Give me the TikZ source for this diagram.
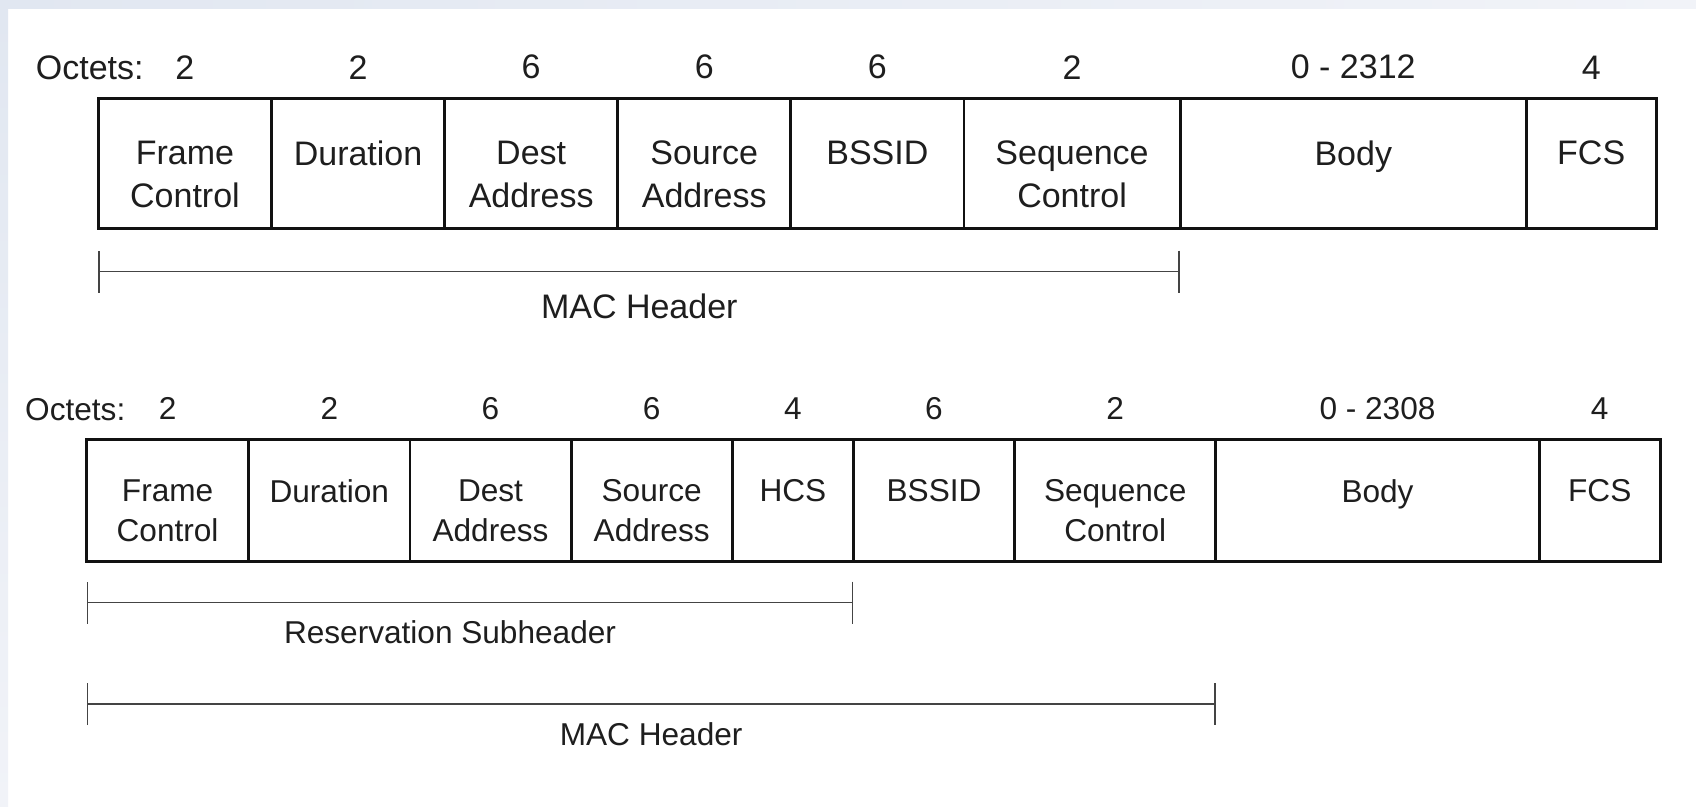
\documentclass[tikz,border=0pt]{standalone}
\usepackage{fontspec}
\setmainfont{Liberation Sans}
\usepackage{xcolor}
\usepackage{tikz}
\usetikzlibrary{arrows.meta,positioning}
\definecolor{frameink}{HTML}{111111}
\definecolor{frametext}{HTML}{1E1E1E}
\definecolor{spanink}{HTML}{444444}
\definecolor{edgeblue}{HTML}{E1E7F1}
\definecolor{edgepale}{HTML}{F1F3F8}
\tikzstyle{field} = [rectangle, draw=frameink, line width=2.8pt, inner sep=0pt, outer sep=0pt]
\tikzstyle{fieldA} = [field, minimum height=129.8pt]
\tikzstyle{fieldB} = [field, minimum height=122.2pt]
\tikzstyle{textA} = [inner sep=0pt, align=center, text=frametext, font=\fontsize{34}{43}\selectfont]
\tikzstyle{textB} = [inner sep=0pt, align=center, text=frametext, font=\fontsize{31.6}{40.5}\selectfont]
\tikzstyle{span} = [{Bar[width=42pt]}-{Bar[width=42pt]}, line width=1.9pt, spanink]

\begin{document}
\begin{tikzpicture}[x=1pt, y=-1pt]
\useasboundingbox (0,0) rectangle (1696,806);
\fill[white] (0,0) rectangle (1696,806);
\shade[left color=edgeblue, right color=edgepale] (0,0) rectangle (1696,8);
\shade[top color=edgeblue, bottom color=edgepale] (0,8) rectangle (8,806);

\node[fieldA, minimum width=173.1pt, anchor=north west] (fc1) at (98.4,98.4) {};
\node[fieldA, minimum width=173.1pt, right=0pt of fc1] (dur1) {};
\node[fieldA, minimum width=173.1pt, right=0pt of dur1] (dst1) {};
\node[fieldA, minimum width=173.1pt, right=0pt of dst1] (src1) {};
\node[fieldA, minimum width=173.1pt, right=0pt of src1] (bss1) {};
\node[fieldA, minimum width=216.3pt, right=0pt of bss1] (seq1) {};
\node[fieldA, minimum width=346.1pt, right=0pt of seq1] (body1) {};
\node[fieldA, minimum width=129.8pt, right=0pt of body1] (fcs1) {};

\node[textA, below=42.6pt of fc1.north] (fc1t) {Frame\\Control};
\node[textA, below=42.6pt of dur1.north] (dur1t) {Duration};
\node[textA, below=42.6pt of dst1.north] (dst1t) {Dest\\Address};
\node[textA, below=42.6pt of src1.north] (src1t) {Source\\Address};
\node[textA, below=42.6pt of bss1.north] (bss1t) {BSSID};
\node[textA, below=42.6pt of seq1.north] (seq1t) {Sequence\\Control};
\node[textA, below=42.6pt of body1.north] (body1t) {Body};
\node[textA, below=42.6pt of fcs1.north] (fcs1t) {FCS};

\node[textA, anchor=base west] (oct1) at (35.7,79.2) {Octets:};
\node[textA, above=19.2pt of fc1.north] (fc1n) {2};
\node[textA, above=19.2pt of dur1.north] (dur1n) {2};
\node[textA, above=19.2pt of dst1.north] (dst1n) {6};
\node[textA, above=19.2pt of src1.north] (src1n) {6};
\node[textA, above=19.2pt of bss1.north] (bss1n) {6};
\node[textA, above=19.2pt of seq1.north] (seq1n) {2};
\node[textA, above=19.2pt of body1.north] (body1n) {0 - 2312};
\node[textA, above=19.2pt of fcs1.north] (fcs1n) {4};

\coordinate[below=43.3pt of fc1.south west] (mac1a);
\coordinate[below=43.3pt of seq1.south east] (mac1b);
\draw[span] (mac1a) -- node[textA, below=21.5pt] (mac1l) {MAC Header} (mac1b);

\node[fieldB, minimum width=162.2pt, anchor=north west] (fc2) at (86.5,439.1) {};
\node[fieldB, minimum width=161.2pt, right=0pt of fc2] (dur2) {};
\node[fieldB, minimum width=161.2pt, right=0pt of dur2] (dst2) {};
\node[fieldB, minimum width=161.2pt, right=0pt of dst2] (src2) {};
\node[fieldB, minimum width=121.1pt, right=0pt of src2] (hcs2) {};
\node[fieldB, minimum width=161.2pt, right=0pt of hcs2] (bss2) {};
\node[fieldB, minimum width=201.2pt, right=0pt of bss2] (seq2) {};
\node[fieldB, minimum width=323.4pt, right=0pt of seq2] (body2) {};
\node[fieldB, minimum width=121.1pt, right=0pt of body2] (fcs2) {};

\node[textB, below=40pt of fc2.north] (fc2t) {Frame\\Control};
\node[textB, below=40pt of dur2.north] (dur2t) {Duration};
\node[textB, below=40pt of dst2.north] (dst2t) {Dest\\Address};
\node[textB, below=40pt of src2.north] (src2t) {Source\\Address};
\node[textB, below=40pt of hcs2.north] (hcs2t) {HCS};
\node[textB, below=40pt of bss2.north] (bss2t) {BSSID};
\node[textB, below=40pt of seq2.north] (seq2t) {Sequence\\Control};
\node[textB, below=40pt of body2.north] (body2t) {Body};
\node[textB, below=40pt of fcs2.north] (fcs2t) {FCS};

\node[textB, anchor=base west] (oct2) at (25,420.1) {Octets:};
\node[textB, above=19pt of fc2.north] (fc2n) {2};
\node[textB, above=19pt of dur2.north] (dur2n) {2};
\node[textB, above=19pt of dst2.north] (dst2n) {6};
\node[textB, above=19pt of src2.north] (src2n) {6};
\node[textB, above=19pt of hcs2.north] (hcs2n) {4};
\node[textB, above=19pt of bss2.north] (bss2n) {6};
\node[textB, above=19pt of seq2.north] (seq2n) {2};
\node[textB, above=19pt of body2.north] (body2n) {0 - 2308};
\node[textB, above=19pt of fcs2.north] (fcs2n) {4};

\coordinate[below=41.2pt of fc2.south west] (res2a);
\coordinate[below=41.2pt of hcs2.south east] (res2b);
\draw[span] (res2a) -- node[textB, pos=0.474, below=17.5pt] (res2l) {Reservation Subheader} (res2b);

\coordinate[below=142.8pt of fc2.south west] (mac2a);
\coordinate[below=142.8pt of seq2.south east] (mac2b);
\draw[span] (mac2a) -- node[textB, below=18pt] (mac2l) {MAC Header} (mac2b);
\end{tikzpicture}
\end{document}
